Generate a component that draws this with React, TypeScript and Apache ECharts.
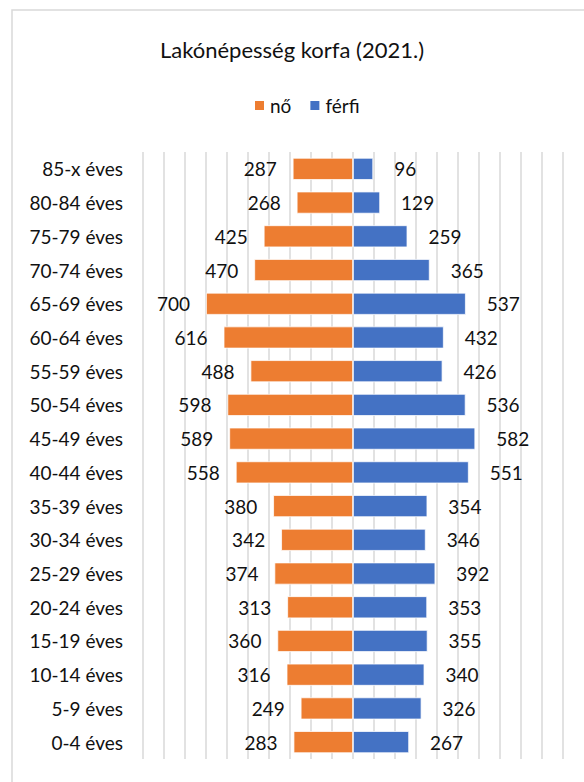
import React, { useEffect, useRef } from "react";
import * as echarts from "echarts";

const categories = [
  "85-x éves", "80-84 éves", "75-79 éves", "70-74 éves", "65-69 éves", "60-64 éves",
  "55-59 éves", "50-54 éves", "45-49 éves", "40-44 éves", "35-39 éves", "30-34 éves",
  "25-29 éves", "20-24 éves", "15-19 éves", "10-14 éves", "5-9 éves", "0-4 éves",
];
const female = [287, 268, 425, 470, 700, 616, 488, 598, 589, 558, 380, 342, 374, 313, 360, 316, 249, 283];
const male = [96, 129, 259, 365, 537, 432, 426, 536, 582, 551, 354, 346, 392, 353, 355, 340, 326, 267];
const seriesNames = ["nő", "férfi"];
const titleText = "Lakónépesség korfa (2021.)";

const FONT = "Lato, 'Liberation Sans', sans-serif";
const TXT = "#111111";

export default function App() {
  const ref = useRef<HTMLDivElement>(null);
  useEffect(() => {
    if (!ref.current) return;
    const chart = echarts.init(ref.current, undefined, { renderer: "svg" });
    chart.setOption({
      animation: false,
      backgroundColor: "#fff",
      textStyle: { fontFamily: FONT },
      title: {
        text: titleText,
        left: "center",
        top: 33,
        textStyle: { fontFamily: FONT, fontSize: 22, fontWeight: "normal", color: TXT },
      },
      legend: {
        data: seriesNames,
        top: 91,
        left: 248,
        itemWidth: 11,
        itemHeight: 11,
        itemGap: 17,
        icon: "rect",
        textStyle: { fontFamily: FONT, fontSize: 19, color: TXT },
      },
      graphic: [
        {
          type: "rect",
          shape: { x: 12, y: 10, width: 620, height: 820 },
          style: { fill: "none", stroke: "#d9d9d9", lineWidth: 1.5 },
          silent: true,
        },
      ],
      grid: { left: 143, right: 21, top: 152, bottom: 23, containLabel: false },
      xAxis: {
        type: "value",
        min: -1000,
        max: 1000,
        interval: 100,
        axisLabel: { show: false },
        axisLine: { show: false },
        axisTick: { show: false },
        splitLine: { show: true, lineStyle: { color: "#d9d9d9", width: 1.5 } },
      },
      yAxis: {
        type: "category",
        data: categories,
        inverse: true,
        axisLine: { show: false, onZero: false },
        axisTick: { show: false },
        axisLabel: { margin: 20, fontFamily: FONT, fontSize: 19, color: TXT },
      },
      series: [
        {
          name: seriesNames[0],
          type: "bar",
          stack: "pop",
          barWidth: 22,
          data: female.map((v) => -v),
          itemStyle: { color: "#ED7D31", borderColor: "#ffffff", borderWidth: 0.75 },
          label: {
            show: true,
            position: "left",
            distance: 16,
            formatter: (p: any) => String(Math.abs(p.value)),
            fontFamily: FONT,
            fontSize: 19,
            color: TXT,
          },
        },
        {
          name: seriesNames[1],
          type: "bar",
          stack: "pop",
          barWidth: 22,
          data: male,
          itemStyle: { color: "#4472C4", borderColor: "#ffffff", borderWidth: 0.75 },
          label: {
            show: true,
            position: "right",
            distance: 21,
            fontFamily: FONT,
            fontSize: 19,
            color: TXT,
          },
        },
      ],
    });
    return () => chart.dispose();
  }, []);
  return (
    <div
      ref={ref}
      style={{ position: "fixed", left: 0, top: 0, width: 584, height: 782 }}
    />
  );
}
